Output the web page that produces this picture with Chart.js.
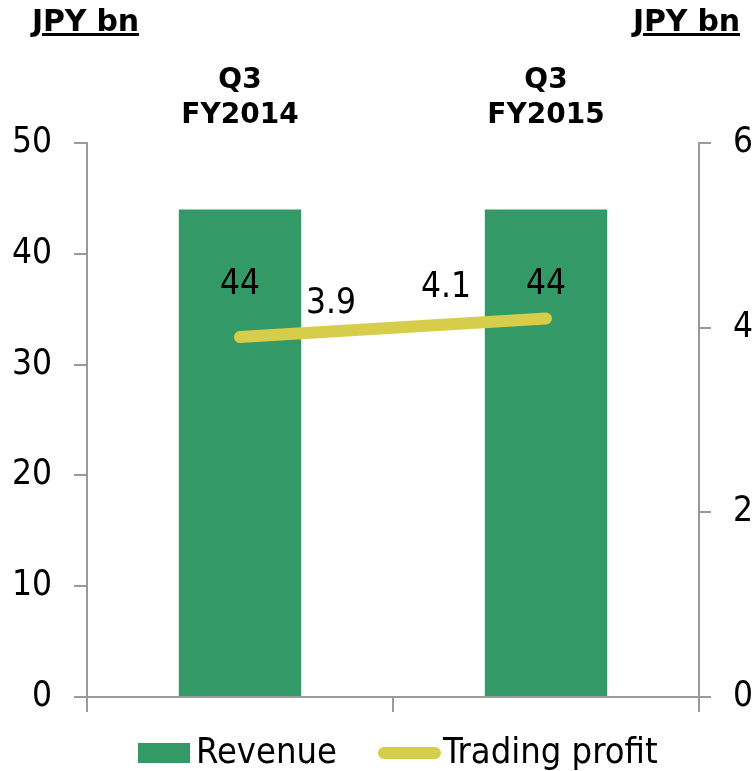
<!DOCTYPE html>
<html>
<head>
<meta charset="utf-8">
<script src="https://cdn.jsdelivr.net/npm/chart.js@4.4.1/dist/chart.umd.min.js"></script>
<style>
  html, body { margin: 0; padding: 0; background: #fff; }
  #wrap { position: relative; width: 755px; height: 771px; overflow: hidden; }
  canvas { position: absolute; left: 0; top: 0; }
  .unit { position: absolute; top: 4px; font-family: "DejaVu Sans", sans-serif; font-weight: bold; font-size: 30px; line-height: 34px; text-decoration: underline; text-decoration-thickness: 3px; text-underline-offset: 2px; color: #000; letter-spacing: -0.2px; }
</style>
</head>
<body>
<div id="wrap">
  <canvas id="c" width="755" height="771"></canvas>
  <div class="unit" style="left:32px;">JPY bn</div>
  <div class="unit" style="right:15px;">JPY bn</div>
</div>
<script>
const categories = [["Q3", "FY2014"], ["Q3", "FY2015"]];
const revenue = [44, 44];
const tradingProfit = [3.9, 4.1];
const revenueTicks = [0, 10, 20, 30, 40, 50];
const profitTicks = [0, 2, 4, 6];
const seriesNames = ["Revenue", "Trading profit"];

const FONT = '"DejaVu Sans Condensed", "DejaVu Sans", sans-serif';
const BOLDFONT = '"DejaVu Sans", sans-serif';
const GREEN = '#339966';
const YELLOW = '#D6CD4A';
const AXIS = '#9a9a9a';

const labelsPlugin = {
  id: 'valueLabels',
  afterDatasetsDraw(chart) {
    const ctx = chart.ctx;
    ctx.save();
    ctx.font = '35px ' + FONT;
    ctx.fillStyle = '#000';
    ctx.textAlign = 'center';
    ctx.textBaseline = 'middle';
    const bars = chart.getDatasetMeta(0).data;
    bars.forEach((b, i) => {
      ctx.fillText(String(chart.data.datasets[0].data[i]), b.x, b.y + 75);
    });
    const pts = chart.getDatasetMeta(1).data;
    const offs = [[91, -33], [-100, -31]];
    pts.forEach((p, i) => {
      const v = chart.data.datasets[1].data[i];
      ctx.fillText(v.toFixed(1), p.x + offs[i][0], p.y + offs[i][1]);
    });
    ctx.restore();
  }
};

const legendPlugin = {
  id: 'customLegend',
  afterDraw(chart) {
    const ctx = chart.ctx;
    ctx.save();
    const y = 753;
    ctx.font = '36px ' + FONT;
    ctx.textBaseline = 'middle';
    ctx.textAlign = 'left';
    // Revenue
    ctx.fillStyle = chart.data.datasets[0].backgroundColor;
    ctx.fillRect(138, y - 10, 52, 20);
    ctx.fillStyle = '#000';
    ctx.fillText(chart.data.datasets[0].label, 196, y + 1);
    // Trading profit
    ctx.strokeStyle = chart.data.datasets[1].borderColor;
    ctx.lineWidth = 12;
    ctx.lineCap = 'round';
    ctx.beginPath();
    ctx.moveTo(384, y);
    ctx.lineTo(435, y);
    ctx.stroke();
    ctx.fillText(chart.data.datasets[1].label, 443, y + 1);
    ctx.restore();
  }
};

new Chart(document.getElementById('c'), {
  type: 'bar',
  data: {
    labels: categories,
    datasets: [
      {
        type: 'bar',
        label: seriesNames[0],
        data: revenue,
        backgroundColor: GREEN,
        yAxisID: 'y',
        xAxisID: 'x',
        barPercentage: 0.4,
        categoryPercentage: 1.0,
        order: 2
      },
      {
        type: 'line',
        label: seriesNames[1],
        data: tradingProfit,
        borderColor: YELLOW,
        backgroundColor: YELLOW,
        borderWidth: 12,
        borderCapStyle: 'round',
        pointRadius: 0,
        yAxisID: 'y1',
        xAxisID: 'x',
        order: 1
      }
    ]
  },
  options: {
    responsive: false,
    animation: false,
    devicePixelRatio: 1,
    layout: { padding: 0 },
    plugins: {
      legend: { display: false },
      tooltip: { enabled: false }
    },
    scales: {
      x: {
        type: 'category',
        position: 'bottom',
        offset: true,
        grid: { display: true, drawOnChartArea: false, drawTicks: true, tickLength: 15, color: AXIS, lineWidth: 2, offset: true },
        border: { display: true, color: AXIS, width: 2 },
        ticks: { display: false },
        afterFit(s) { s.height = 74; }
      },
      x2: {
        type: 'category',
        position: 'top',
        labels: categories,
        offset: true,
        grid: { display: false, drawTicks: false },
        border: { display: false },
        ticks: { color: '#000', font: { family: BOLDFONT, size: 28, weight: 'bold', lineHeight: 1.28 }, padding: 9, maxRotation: 0, autoSkip: false },
        afterFit(s) { s.height = 143; }
      },
      y: {
        position: 'left',
        min: 0, max: 50,
        afterBuildTicks(s) { s.ticks = revenueTicks.map(v => ({ value: v })); },
        grid: { drawOnChartArea: false, drawTicks: true, tickLength: 13, color: AXIS, lineWidth: 2 },
        border: { display: true, color: AXIS, width: 2 },
        ticks: { color: '#000', font: { family: FONT, size: 35 }, padding: 22 },
        afterFit(s) { s.width = 87; }
      },
      y1: {
        position: 'right',
        min: 0, max: 6,
        afterBuildTicks(s) { s.ticks = profitTicks.map(v => ({ value: v })); },
        grid: { drawOnChartArea: false, drawTicks: true, tickLength: 12, color: AXIS, lineWidth: 2 },
        border: { display: true, color: AXIS, width: 2 },
        ticks: { color: '#000', font: { family: FONT, size: 35 }, padding: 22 },
        afterFit(s) { s.width = 56; }
      }
    }
  },
  plugins: [labelsPlugin, legendPlugin]
});
</script>
</body>
</html>
